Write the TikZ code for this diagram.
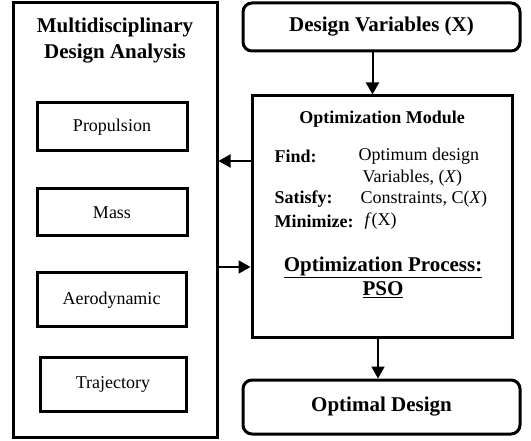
\documentclass[tikz,border=0pt]{standalone}
\usepackage{fontspec}
\setmainfont{Liberation Serif}
\usetikzlibrary{arrows.meta}
\begin{document}
\begin{tikzpicture}[x=1pt,y=-1pt,
  thickbox/.style={draw,line width=3pt,minimum width=#1,inner sep=0pt},
  conn/.style={line width=2pt,-{Triangle[width=13pt,length=12pt]}},
  big/.style={font=\fontsize{21}{26}\selectfont\bfseries,align=center},
  small/.style={font=\fontsize{18}{22}\selectfont},
  sbold/.style={font=\fontsize{18}{22}\selectfont\bfseries}]
\useasboundingbox (0,0) rectangle (531,441);
% left block
\node[thickbox=204pt,minimum height=434pt] (mda) at (115,220) {};
\node[big] (mdat) at (115,41) {Multidisciplinary\\Design Analysis};
\node[thickbox=150pt,minimum height=48pt,small] (prop) at (112,127) {Propulsion};
\node[thickbox=150pt,minimum height=47pt,small] (mass) at (112,212.5) {Mass};
\node[thickbox=149pt,minimum height=54pt,small] (aero) at (111.5,300) {Aerodynamic};
\node[thickbox=146pt,minimum height=54pt,small] (traj) at (113,384) {Trajectory};
% right block
\node[thickbox=277pt,minimum height=48pt,rounded corners=9pt,big] (dv) at (381.5,27) {Design Variables (X)};
\node[thickbox=260pt,minimum height=242pt] (om) at (382,217) {};
\node[thickbox=277pt,minimum height=54pt,rounded corners=9pt,big] (od) at (381.5,407) {Optimal Design};
% module content
\node[sbold] (omt) at (382,119) {Optimization Module};
\node[sbold,anchor=west] (f1) at (271,156) {Find:};
\node[small,anchor=west] (f2) at (355,156) {Optimum design};
\node[small,anchor=west] (f3) at (359,178) {Variables, (\textit{X})};
\node[sbold,anchor=west] (s1) at (271,199) {Satisfy:};
\node[small,anchor=west] (s2) at (357,199) {Constraints, C(\textit{X})};
\node[sbold,anchor=west] (m1) at (271,221) {Minimize:};
\node[small,anchor=west] (m2) at (361,221) {\textit{f}(X)};
\node[font=\fontsize{21}{25}\selectfont\bfseries,align=center] (op) at (383,277)
  {\underline{Optimization Process:}\\[-1pt]\underline{PSO}};
% connectors
\draw[conn] ([xshift=-9pt]dv.south) -- ([xshift=-9pt]dv.south |- om.north);
\draw[conn] ([xshift=-4pt]om.south) -- ([xshift=-4pt]om.south |- od.north);
\draw[conn] ([yshift=56pt]om.west) -- ([yshift=56pt]om.west -| mda.east);
\draw[conn] ([yshift=-50pt]om.west -| mda.east) -- ([yshift=-50pt]om.west);
\end{tikzpicture}
\end{document}
